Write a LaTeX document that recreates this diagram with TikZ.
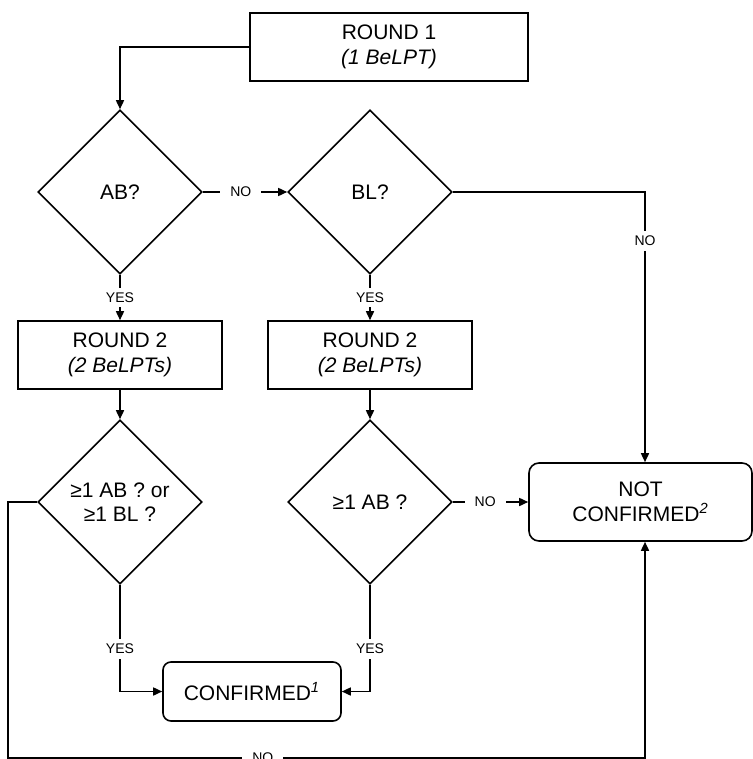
\documentclass[tikz,border=0pt]{standalone}
\usepackage{fontspec}
\setmainfont{Liberation Sans}
\usetikzlibrary{arrows.meta,shapes.geometric}

\begin{document}
\begin{tikzpicture}[x=0.5pt,y=-0.5pt,line width=0.8pt,
  box/.style={draw,rectangle,inner sep=0pt,align=center,font=\fontsize{10.5}{12.5}\selectfont},
  endbox/.style={box,rounded corners=5pt},
  query/.style={draw,diamond,aspect=1,inner sep=0pt,minimum width=82pt,minimum height=82pt,align=center,font=\fontsize{10.5}{12}\selectfont},
  lbl/.style={fill=white,inner xsep=5pt,inner ysep=2.5pt,font=\fontsize{7}{8}\selectfont},
  flow/.style={-{Triangle[length=4.5pt,width=4pt]}}]
  \useasboundingbox (0,0) rectangle (753,759);
  % boxes and questions
  \node[box,minimum width=139pt,minimum height=34pt] (round1) at (389,47) {ROUND 1\\\textit{(1 BeLPT)}};
  \node[query] (ab) at (120,192) {AB?};
  \node[query] (bl) at (370,192) {BL?};
  \node[box,minimum width=102pt,minimum height=34pt] (round2a) at (120,355) {ROUND 2\\\textit{(2 BeLPTs)}};
  \node[box,minimum width=102pt,minimum height=34pt] (round2b) at (370,355) {ROUND 2\\\textit{(2 BeLPTs)}};
  \node[query] (anyab) at (120,502) {≥1 AB ? or\\≥1 BL ?};
  \node[query] (oneab) at (370,502) {≥1 AB ?};
  \node[endbox,minimum width=111.5pt,minimum height=39pt] (notconf) at (640.5,502) {NOT\\CONFIRMED\textsuperscript{\textit{2}}};
  \node[endbox,rounded corners=4pt,minimum width=89pt,minimum height=29.5pt] (conf) at (252,691.5) {CONFIRMED\textsuperscript{\textit{1}}};
  % turning points
  \coordinate (blturn) at (645,192);
  \coordinate (loopa) at (8,502);
  \coordinate (loopb) at (8,758);
  \coordinate (loopc) at (645,758);
  % connectors
  \draw[flow] (round1.west) -| (ab.north);
  \draw[flow] (ab.east) -- node[lbl,pos=0.45] {NO} (bl.west);
  \draw[flow] (bl.east) -- (blturn) -- node[lbl,pos=0.18] {NO} (blturn |- notconf.north);
  \draw[flow] (ab.south) -- node[lbl] {YES} (round2a.north);
  \draw[flow] (bl.south) -- node[lbl] {YES} (round2b.north);
  \draw[flow] (round2a.south) -- (anyab.north);
  \draw[flow] (round2b.south) -- (oneab.north);
  \draw[flow] (oneab.east) -- node[lbl,pos=0.43] {NO} (notconf.west);
  \draw[flow] (anyab.south) |- node[lbl,pos=0.3] {YES} (conf.west);
  \draw[flow] (oneab.south) |- node[lbl,pos=0.3] {YES} (conf.east);
  \draw[flow] (anyab.west) -- (loopa) -- (loopb) -- node[lbl,pos=0.4] {NO} (loopc) -- (loopc |- notconf.south);
\end{tikzpicture}
\end{document}
